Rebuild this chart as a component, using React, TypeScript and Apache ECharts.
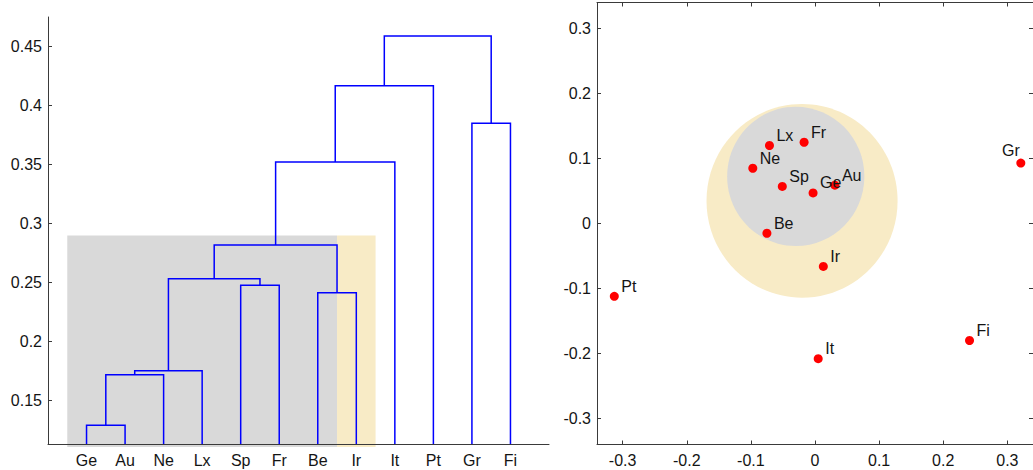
import React, { useEffect, useRef } from "react";
import * as echarts from "echarts";

// ---------- Dendrogram data ----------
const leaves = ["Ge", "Au", "Ne", "Lx", "Sp", "Fr", "Be", "Ir", "It", "Pt", "Gr", "Fi"];
// linkage: nodes 0..11 are leaves, merge k creates node 12+k
const linkLeft = [0, 12, 13, 4, 14, 6, 16, 18, 19, 10, 20];
const linkRight = [1, 2, 3, 5, 15, 7, 17, 8, 9, 11, 21];
const linkHeight = [0.1292, 0.172, 0.1754, 0.2478, 0.2534, 0.2415, 0.282, 0.3523, 0.4169, 0.3851, 0.4591];
const dendroTicks = [0.15, 0.2, 0.25, 0.3, 0.35, 0.4, 0.45];
const dendroMin = 0.1133;
const dendroMax = 0.4752;
// cluster shading in the dendrogram: [from leaf pos, to leaf pos, top height]
const shadeFrom = [0.5, 7.5];
const shadeTo = [7.5, 8.5];
const shadeTop = [0.29, 0.29];

// ---------- Map (MDS) data ----------
const pointNames = ["Ge", "Au", "Ne", "Lx", "Sp", "Fr", "Be", "Ir", "It", "Pt", "Gr", "Fi"];
const pointX = [-0.003, 0.031, -0.097, -0.071, -0.051, -0.017, -0.075, 0.013, 0.005, -0.313, 0.321, 0.241];
const pointY = [0.047, 0.059, 0.085, 0.12, 0.057, 0.125, -0.015, -0.066, -0.208, -0.112, 0.093, -0.18];
const circleX = [-0.0202, -0.03];
const circleY = [0.0348, 0.0725];
const circleR = [0.149, 0.107];
const mapTicks = [-0.3, -0.2, -0.1, 0, 0.1, 0.2, 0.3];
const mapMin = -0.34;
const mapMax = 0.34;

const GRAY = "#d9d9d9";
const YELLOW = "#f8ebc6";
const FONT = "'Liberation Sans', Arial, sans-serif";
const TEXT = "#141414";
const AXIS = "#3a3a3a";

export default function App() {
  const ref = useRef<HTMLDivElement>(null);

  useEffect(() => {
    const chart = echarts.init(ref.current!, null, { renderer: "svg" });

    // dendrogram segments through the tree
    const nodeX: number[] = leaves.map((_, i) => i + 1);
    const nodeH: number[] = leaves.map(() => dendroMin);
    const links = linkHeight.map((h, k) => {
      const l = linkLeft[k];
      const r = linkRight[k];
      const item = [nodeX[l], nodeH[l], nodeX[r], nodeH[r], h];
      nodeX.push((nodeX[l] + nodeX[r]) / 2);
      nodeH.push(h);
      return item;
    });
    const shades = shadeFrom.map((f, i) => [f, shadeTo[i], shadeTop[i]]);
    const shadeColors = [GRAY, YELLOW];
    const circles = circleX.map((x, i) => [x, circleY[i], circleR[i]]);
    const circleColors = [YELLOW, GRAY];

    const labelStyle = { color: TEXT, fontSize: 16, fontFamily: FONT };
    const mapAxisCommon = {
      type: "value" as const,
      min: mapMin,
      max: mapMax,
      splitLine: { show: false },
      axisLine: { show: true, onZero: false, lineStyle: { color: AXIS, width: 1 } },
      axisTick: { show: true, inside: true, length: 4, customValues: mapTicks, lineStyle: { color: AXIS } },
    };

    chart.setOption({
      animation: false,
      grid: [
        { left: 48, top: 17, width: 501, height: 427 },
        { left: 597, top: 2.5, width: 438.6, height: 442 },
      ],
      xAxis: [
        {
          gridIndex: 0,
          type: "value",
          min: 0,
          max: 13,
          interval: 1,
          splitLine: { show: false },
          axisLine: { show: true, onZero: false, lineStyle: { color: AXIS, width: 1 } },
          axisTick: { show: false },
          axisLabel: {
            ...labelStyle,
            margin: 8,
            formatter: (v: number) => leaves[Math.round(v) - 1] ?? "",
          },
        },
        {
          ...mapAxisCommon,
          gridIndex: 1,
          position: "bottom",
          axisLabel: { ...labelStyle, margin: 8, customValues: mapTicks },
        },
        {
          ...mapAxisCommon,
          gridIndex: 1,
          position: "top",
          axisLabel: { show: false },
        },
      ],
      yAxis: [
        {
          gridIndex: 0,
          type: "value",
          min: dendroMin,
          max: dendroMax,
          splitLine: { show: false },
          axisLine: { show: true, onZero: false, lineStyle: { color: AXIS, width: 1 } },
          axisTick: { show: true, inside: true, length: 4, customValues: dendroTicks, lineStyle: { color: AXIS } },
          axisLabel: { ...labelStyle, margin: 6, customValues: dendroTicks },
        },
        {
          ...mapAxisCommon,
          gridIndex: 1,
          position: "left",
          axisLabel: { ...labelStyle, margin: 6, customValues: mapTicks },
        },
        {
          ...mapAxisCommon,
          gridIndex: 1,
          position: "right",
          axisLabel: { show: false },
        },
      ],
      series: [
        {
          type: "custom",
          xAxisIndex: 0,
          yAxisIndex: 0,
          z: -1,
          silent: true,
          data: shades,
          renderItem: (params: any, api: any) => {
            const a = api.coord([api.value(0), api.value(2)]);
            const b = api.coord([api.value(1), dendroMin]);
            return {
              type: "rect",
              shape: { x: a[0], y: a[1], width: b[0] - a[0], height: b[1] - a[1] + 3 },
              style: { fill: shadeColors[params.dataIndex] },
            };
          },
        },
        {
          type: "custom",
          xAxisIndex: 0,
          yAxisIndex: 0,
          silent: true,
          data: links,
          renderItem: (_params: any, api: any) => {
            const p1 = api.coord([api.value(0), api.value(1)]);
            const p2 = api.coord([api.value(0), api.value(4)]);
            const p3 = api.coord([api.value(2), api.value(4)]);
            const p4 = api.coord([api.value(2), api.value(3)]);
            return {
              type: "polyline",
              shape: { points: [p1, p2, p3, p4] },
              style: { stroke: "#0000ff", lineWidth: 1.5, fill: "none" },
            };
          },
        },
        {
          type: "custom",
          xAxisIndex: 1,
          yAxisIndex: 1,
          silent: true,
          data: circles,
          renderItem: (params: any, api: any) => {
            const c = api.coord([api.value(0), api.value(1)]);
            const s = api.size([api.value(2), api.value(2)]);
            return {
              type: "ellipse",
              shape: { cx: c[0], cy: c[1], rx: s[0], ry: s[1] },
              style: { fill: circleColors[params.dataIndex] },
            };
          },
        },
        {
          type: "scatter",
          xAxisIndex: 1,
          yAxisIndex: 1,
          symbol: "circle",
          symbolSize: 9,
          itemStyle: { color: "#ff0000", opacity: 1 },
          silent: true,
          label: {
            show: true,
            position: "right",
            distance: 2.5,
            offset: [0, -10],
            formatter: "{b}",
            ...labelStyle,
          },
          data: pointNames.map((n, i) => ({
            name: n,
            value: [pointX[i], pointY[i]],
            ...(n === "Gr" ? { label: { position: "left", distance: -3.5, offset: [0, -13] } } : {}),
          })),
        },
      ],
    });

    return () => chart.dispose();
  }, []);

  return (
    <div
      ref={ref}
      style={{ position: "absolute", left: 0, top: 0, width: 1033, height: 470, background: "#fff" }}
    />
  );
}
